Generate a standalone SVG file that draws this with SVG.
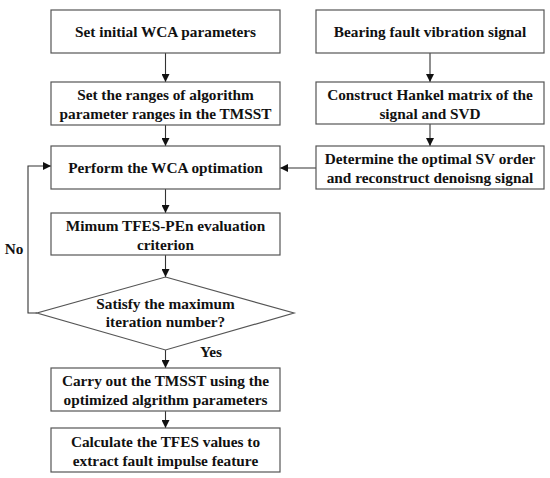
<svg xmlns="http://www.w3.org/2000/svg" width="550" height="478" viewBox="0 0 550 478">
<style>
.b{fill:#fff;stroke:#555;stroke-width:1.2}
.t{font-family:'Liberation Serif','Times New Roman','DejaVu Serif',serif;font-weight:bold;font-size:15.3px;fill:#111;text-anchor:middle}
.c{fill:none;stroke:#333;stroke-width:1.1}
</style>
<defs>
<marker id="a" viewBox="0 0 10 10" refX="10" refY="5" markerWidth="8" markerHeight="8" markerUnits="userSpaceOnUse" orient="auto">
<path d="M0,0L10,5L0,10z" fill="#111"/>
</marker>
</defs>
<rect width="550" height="478" fill="#fff"/>
<g id="connectors">
<path class="c" d="M165.5,53V82" marker-end="url(#a)"/>
<path class="c" d="M165.5,125V146" marker-end="url(#a)"/>
<path class="c" d="M165.5,189V213" marker-end="url(#a)"/>
<path class="c" d="M165.5,255V277" marker-end="url(#a)"/>
<path class="c" d="M165.5,350V368" marker-end="url(#a)"/>
<path class="c" d="M165.5,411V428" marker-end="url(#a)"/>
<path class="c" d="M430,53V82" marker-end="url(#a)"/>
<path class="c" d="M430,124V146" marker-end="url(#a)"/>
<path class="c" d="M316,168H280" marker-end="url(#a)"/>
<path class="c" d="M37,313H28V166H51" marker-end="url(#a)"/>
<text class="t" x="14" y="254">No</text>
<text class="t" x="211" y="357">Yes</text>
</g>
<g id="n1"><rect class="b" x="51" y="10" width="229" height="43"/><text class="t" x="165.5" y="37">Set initial WCA parameters</text></g>
<g id="n2"><rect class="b" x="51" y="82" width="229" height="43"/><text class="t" x="165.5" y="100">Set the ranges of algorithm</text><text class="t" x="165.5" y="119">parameter ranges in the TMSST</text></g>
<g id="n3"><rect class="b" x="51" y="146" width="229" height="43"/><text class="t" x="165.5" y="173">Perform the WCA optimation</text></g>
<g id="n4"><rect class="b" x="51" y="213" width="229" height="42"/><text class="t" x="165.5" y="231">Mimum TFES-PEn evaluation</text><text class="t" x="165.5" y="250">criterion</text></g>
<g id="n5"><polygon class="b" points="165.5,277 294,313 165.5,350 37,313"/><text class="t" x="165.5" y="309">Satisfy the maximum</text><text class="t" x="165.5" y="327">iteration number?</text></g>
<g id="n6"><rect class="b" x="51" y="368" width="229" height="43"/><text class="t" x="165.5" y="386">Carry out the TMSST using the</text><text class="t" x="165.5" y="405">optimized algrithm parameters</text></g>
<g id="n7"><rect class="b" x="51" y="428" width="229" height="44"/><text class="t" x="165.5" y="447">Calculate the TFES values to</text><text class="t" x="165.5" y="466">extract fault impulse feature</text></g>
<g id="r1"><rect class="b" x="316" y="10" width="228" height="43"/><text class="t" x="430" y="37">Bearing fault vibration signal</text></g>
<g id="r2"><rect class="b" x="316" y="82" width="228" height="42"/><text class="t" x="430" y="100">Construct Hankel matrix of the</text><text class="t" x="430" y="119">signal and SVD</text></g>
<g id="r3"><rect class="b" x="316" y="146" width="228" height="43"/><text class="t" x="430" y="164">Determine the optimal SV order</text><text class="t" x="430" y="183">and reconstruct denoisng signal</text></g>
</svg>
